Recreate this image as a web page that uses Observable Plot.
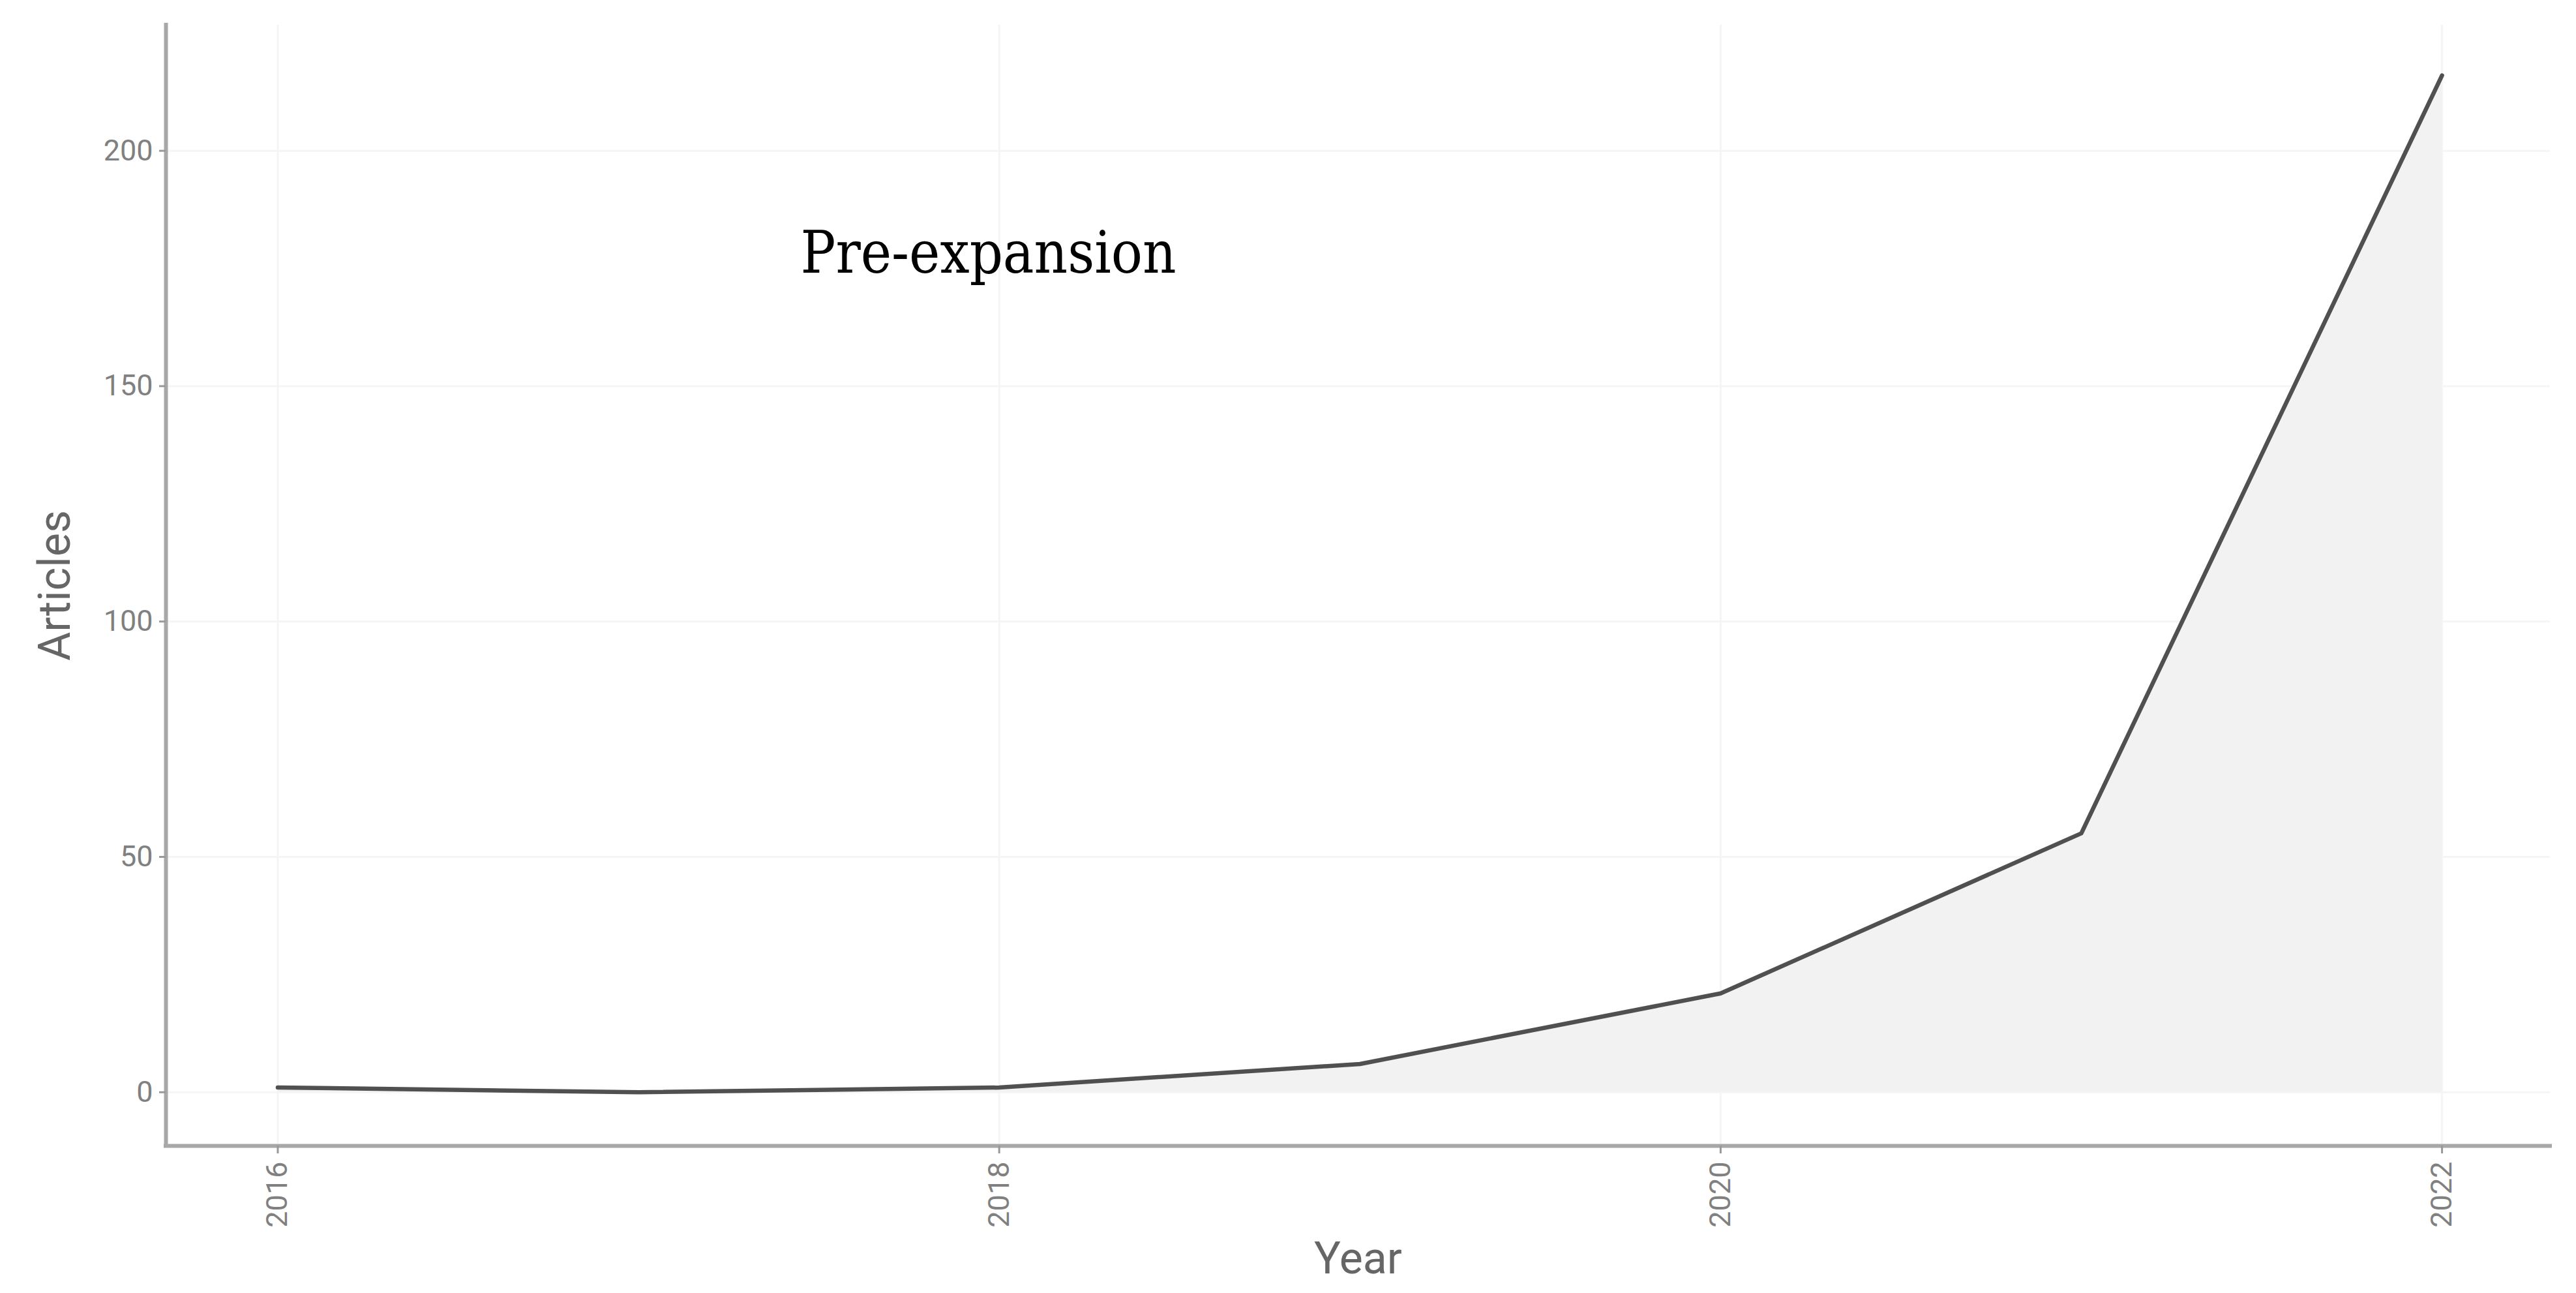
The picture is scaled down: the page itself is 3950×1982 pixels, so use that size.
<!DOCTYPE html>
<html>
<head>
<meta charset="utf-8">
<script src="https://cdn.jsdelivr.net/npm/d3@7"></script>
<script src="https://cdn.jsdelivr.net/npm/@observablehq/plot@0.6"></script>
<style>
  html, body { margin: 0; padding: 0; background: #ffffff; }
  #chart svg { display: block; }
</style>
</head>
<body>
<div id="chart"></div>
<script>
// ---- data ----
const years = [2016, 2017, 2018, 2019, 2020, 2021, 2022];
const articles = [1, 0, 1, 6, 21, 55, 216];

// ---- axes ----
const xTicks = [2016, 2018, 2020, 2022];
const yTicks = [0, 50, 100, 150, 200];
const xDomain = [2015.69, 2022.30];
const yDomain = [-11.4, 226.7];
const xTitle = "Year";
const yTitle = "Articles";

// ---- annotation ----
const noteText = ["Pre-expansion"];
const noteYear = [2017.97];
const noteValue = [178];

const data = years.map((year, i) => ({ year, value: articles[i] }));
const notes = noteText.map((t, i) => ({ text: t, x: noteYear[i], y: noteValue[i] }));

const chart = Plot.plot({
  width: 3950,
  height: 1982,
  marginLeft: 254,
  marginRight: 40,
  marginTop: 38,
  marginBottom: 226,
  style: { fontFamily: "Roboto, sans-serif", background: "#ffffff" },
  x: { domain: xDomain, label: null },
  y: { domain: yDomain, label: null },
  marks: [
    Plot.gridY(yTicks, { stroke: "#f5f5f5", strokeOpacity: 1, strokeWidth: 3 }),
    Plot.gridX(xTicks, { stroke: "#f5f5f5", strokeOpacity: 1, strokeWidth: 3 }),
    Plot.areaY(data, { x: "year", y: "value", fill: "#f2f2f2" }),
    Plot.lineY(data, { x: "year", y: "value", stroke: "#505050", strokeWidth: 6.5 }),
    Plot.ruleX([xDomain[0]], { stroke: "#a8a8a8", strokeWidth: 6, strokeLinecap: "square" }),
    Plot.ruleY([yDomain[0]], { stroke: "#a8a8a8", strokeWidth: 6, strokeLinecap: "square" }),
    Plot.axisY(yTicks, {
      tickSize: 10, tickPadding: 10, fontSize: 45,
      fill: "#808080", stroke: "#999999", strokeWidth: 3,
      label: null, tickFormat: d => String(d)
    }),
    Plot.axisX(xTicks, {
      tickSize: 12, tickPadding: 12, tickRotate: -90, fontSize: 45,
      fill: "#808080", stroke: "#999999", strokeWidth: 3,
      label: null, tickFormat: d => String(d)
    }),
    Plot.text([yTitle], {
      text: d => d, frameAnchor: "left", rotate: -90, dx: -169,
      textAnchor: "middle", lineAnchor: "middle", fontSize: 68, fill: "#666666"
    }),
    Plot.text([xTitle], {
      text: d => d, frameAnchor: "bottom", dy: 195,
      textAnchor: "middle", fontSize: 68, fill: "#666666"
    }),
    Plot.text(notes, {
      x: "x", y: "y", text: "text",
      fontFamily: "'DejaVu Serif Condensed', 'DejaVu Serif', serif",
      fontSize: 89, fill: "#000000"
    })
  ]
});

document.getElementById("chart").appendChild(chart);
</script>
</body>
</html>
